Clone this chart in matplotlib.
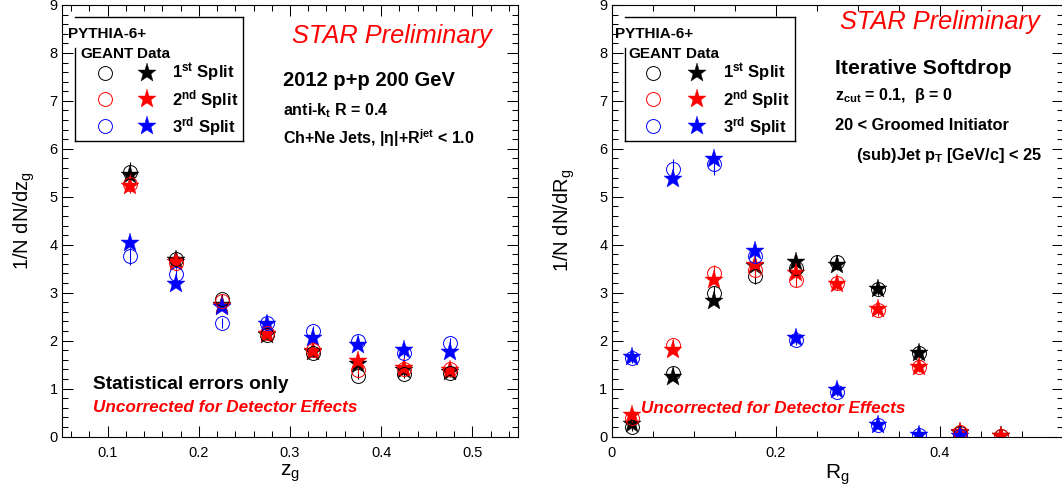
import numpy as np
import matplotlib
matplotlib.use("Agg")
import matplotlib.pyplot as plt
from matplotlib.lines import Line2D
from matplotlib.ticker import MultipleLocator, FuncFormatter

plt.rcParams["font.family"] = ["Liberation Sans", "DejaVu Sans"]
plt.rcParams["mathtext.fontset"] = "custom"
plt.rcParams["mathtext.rm"] = "Liberation Sans"
plt.rcParams["mathtext.bf"] = "Liberation Sans:bold"
plt.rcParams["mathtext.it"] = "Liberation Sans:italic"

# ---- data: z_g panel ----
zg = [0.125, 0.175, 0.225, 0.275, 0.325, 0.375, 0.425, 0.475]
zg_mc_1 = [5.52, 3.71, 2.87, 2.11, 1.74, 1.27, 1.31, 1.33]
zg_data_1 = [5.46, 3.69, 2.74, 2.12, 1.76, 1.51, 1.38, 1.35]
zg_mc_2 = [5.27, 3.62, 2.83, 2.16, 1.81, 1.38, 1.41, 1.41]
zg_data_2 = [5.22, 3.63, 2.72, 2.14, 1.79, 1.58, 1.42, 1.39]
zg_mc_3 = [3.76, 3.38, 2.37, 2.37, 2.21, 2.00, 1.74, 1.95]
zg_data_3 = [4.04, 3.19, 2.70, 2.34, 2.06, 1.91, 1.81, 1.76]
zg_err_1 = [0.20, 0.12, 0.10, 0.08, 0.08, 0.08, 0.08, 0.08]
zg_err_2 = [0.20, 0.12, 0.10, 0.08, 0.08, 0.08, 0.08, 0.08]
zg_err_3 = [0.19, 0.12, 0.10, 0.10, 0.10, 0.10, 0.10, 0.10]

# ---- data: R_g panel ----
rg = [0.025, 0.075, 0.125, 0.175, 0.225, 0.275, 0.325, 0.375, 0.425, 0.475]
rg_mc_1 = [0.20, 1.32, 2.99, 3.34, 3.52, 3.63, 3.08, 1.74, 0.08, 0.01]
rg_data_1 = [0.27, 1.25, 2.82, 3.55, 3.63, 3.58, 3.07, 1.75, 0.08, 0.01]
rg_mc_2 = [0.38, 1.91, 3.42, 3.48, 3.27, 3.20, 2.64, 1.45, 0.09, 0.02]
rg_data_2 = [0.45, 1.81, 3.27, 3.58, 3.40, 3.19, 2.65, 1.46, 0.09, 0.02]
rg_mc_3 = [1.64, 5.58, 5.69, 3.77, 2.02, 0.92, 0.24, 0.03, 0.01, np.nan]
rg_data_3 = [1.66, 5.37, 5.78, 3.86, 2.05, 0.96, 0.25, 0.04, 0.02, np.nan]
rg_err_1 = [0.08, 0.12, 0.15, 0.15, 0.15, 0.15, 0.12, 0.10, 0.05, 0.03]
rg_err_2 = [0.08, 0.12, 0.15, 0.15, 0.15, 0.15, 0.12, 0.10, 0.05, 0.03]
rg_err_3 = [0.10, 0.20, 0.23, 0.15, 0.12, 0.08, 0.05, 0.03, 0.02, np.nan]

split_colors = ["black", "red", "blue"]
split_labels = [r"1$^{\mathbf{st}}$ Split", r"2$^{\mathbf{nd}}$ Split",
                r"3$^{\mathbf{rd}}$ Split"]

W, H = 1062, 494


def fx(px):
    return px / W


def fy(py):
    return 1 - py / H


fig = plt.figure(figsize=(W / 100, H / 100), dpi=100)
ax1 = fig.add_axes([fx(62), fy(436.5), (518 - 62) / W, 431.5 / H])
ax2 = fig.add_axes([fx(611.5), fy(436.5), (1063 - 611.5) / W, 431.5 / H])


def draw_panel(ax, x, mcs, datas, errs):
    for mc, dat, err, c in zip(mcs, datas, errs, split_colors):
        ax.errorbar(x, mc, yerr=err, fmt="o", mfc="none", mec=c, ms=10,
                    mew=0.7, ecolor=c, elinewidth=0.8, capsize=0)
        ax.plot(x, dat, "*", color=c, ms=14, mew=0.3, mec=c)


draw_panel(ax1, zg, [zg_mc_1, zg_mc_2, zg_mc_3],
           [zg_data_1, zg_data_2, zg_data_3], [zg_err_1, zg_err_2, zg_err_3])
draw_panel(ax2, rg, [rg_mc_1, rg_mc_2, rg_mc_3],
           [rg_data_1, rg_data_2, rg_data_3], [rg_err_1, rg_err_2, rg_err_3])

fmt = FuncFormatter(lambda v, p: f"{v:g}")
for ax in (ax1, ax2):
    ax.set_ylim(0, 9)
    ax.yaxis.set_major_locator(MultipleLocator(1))
    ax.yaxis.set_minor_locator(MultipleLocator(0.2))
    ax.xaxis.set_major_formatter(fmt)
    ax.yaxis.set_major_formatter(fmt)
    ax.tick_params(which="both", direction="in", top=True, right=True,
                   width=0.75, labelsize=10.5)
    ax.tick_params(which="major", length=8)
    ax.tick_params(which="minor", length=4.5)
    ax.tick_params(axis="x", pad=6.5)
    ax.tick_params(axis="y", pad=3)
    for s in ax.spines.values():
        s.set_linewidth(0.8)

ax1.set_xlim(0.05, 0.55)
ax1.xaxis.set_major_locator(MultipleLocator(0.1))
ax1.xaxis.set_minor_locator(MultipleLocator(0.02))
ax2.set_xlim(0, 0.55)
ax2.xaxis.set_major_locator(MultipleLocator(0.2))
ax2.xaxis.set_minor_locator(MultipleLocator(0.05))

ax1.set_ylabel(r"1/N dN/dz$_{\mathrm{g}}$", fontsize=14.5)
ax1.yaxis.set_label_coords(-0.055, 0.5)
ax1.set_xlabel(r"z$_{\mathrm{g}}$", fontsize=15)
ax1.xaxis.set_label_coords(0.5, -0.06)
ax2.set_ylabel(r"1/N dN/dR$_{\mathrm{g}}$", fontsize=14.5)
ax2.yaxis.set_label_coords(-0.076, 0.5)
ax2.set_xlabel(r"R$_{\mathrm{g}}$", fontsize=15)
ax2.xaxis.set_label_coords(0.5, -0.06)


def legend_box(x0, x1, xp, xg, xd, xc, xs, xt):
    top, bot, lstart = 17, 141, 48
    for xs_, ys_ in [([x0, x1], [top, top]), ([x1, x1], [top, bot]),
                     ([x0, x1], [bot, bot]), ([x0, x0], [lstart, bot])]:
        fig.add_artist(Line2D([fx(v) for v in xs_], [fy(v) for v in ys_],
                              color="black", lw=1.0))
    fig.text(fx(xp), fy(38), "PYTHIA-6+", fontsize=11, fontweight="bold",
             va="baseline")
    fig.text(fx(xg), fy(58), "GEANT", fontsize=11, fontweight="bold",
             va="baseline")
    fig.text(fx(xd), fy(58), "Data", fontsize=11, fontweight="bold",
             va="baseline")
    for yc, yb, c, lab in zip([73, 99, 126], [78, 105, 132], split_colors,
                              split_labels):
        fig.add_artist(Line2D([fx(xc)], [fy(yc)], marker="o", mfc="none",
                              mec=c, ms=10, mew=0.7, ls="none"))
        fig.add_artist(Line2D([fx(xs)], [fy(yc)], marker="*", color=c,
                              ms=14, mew=0.3, mec=c, ls="none"))
        fig.text(fx(xt), fy(yb), lab, fontsize=12, fontweight="bold",
                 va="baseline")


legend_box(75, 243, 68, 80, 137, 105, 147, 172)
legend_box(625, 795, 615, 628, 686, 653, 697, 723)

# left panel texts
fig.text(fx(292), fy(43), "STAR Preliminary", color="red", fontsize=18.3,
         style="italic", va="baseline")
fig.text(fx(283), fy(86), "2012 p+p 200 GeV", fontsize=14.5, fontweight="bold",
         va="baseline")
fig.text(fx(283), fy(115), r"anti-k$_{\mathbf{t}}$ R = 0.4", fontsize=11.5,
         fontweight="bold", va="baseline")
fig.text(fx(283), fy(144), r"Ch+Ne Jets, |η|+R$^{\mathbf{jet}}$ < 1.0",
         fontsize=11.5, fontweight="bold", va="baseline")
fig.text(fx(93), fy(389), "Statistical errors only", fontsize=13.8,
         fontweight="bold", va="baseline")
fig.text(fx(93), fy(412), "Uncorrected for Detector Effects", color="red",
         fontsize=12.3, fontweight="bold", style="italic", va="baseline")

# right panel texts
fig.text(fx(840), fy(29), "STAR Preliminary", color="red", fontsize=18.3,
         style="italic", va="baseline")
fig.text(fx(835), fy(74), "Iterative Softdrop", fontsize=15.3,
         fontweight="bold", va="baseline")
fig.text(fx(835), fy(100), r"z$_{\mathbf{cut}}$ = 0.1,  β = 0", fontsize=11.5,
         fontweight="bold", va="baseline")
fig.text(fx(835), fy(130), "20 < Groomed Initiator", fontsize=11.8,
         fontweight="bold", va="baseline")
fig.text(fx(856), fy(160), r"(sub)Jet p$_{\mathbf{T}}$ [GeV/c] < 25",
         fontsize=11.8, fontweight="bold", va="baseline")
fig.text(fx(641), fy(413), "Uncorrected for Detector Effects", color="red",
         fontsize=12.3, fontweight="bold", style="italic", va="baseline")

fig.savefig("out.png", dpi=100)
